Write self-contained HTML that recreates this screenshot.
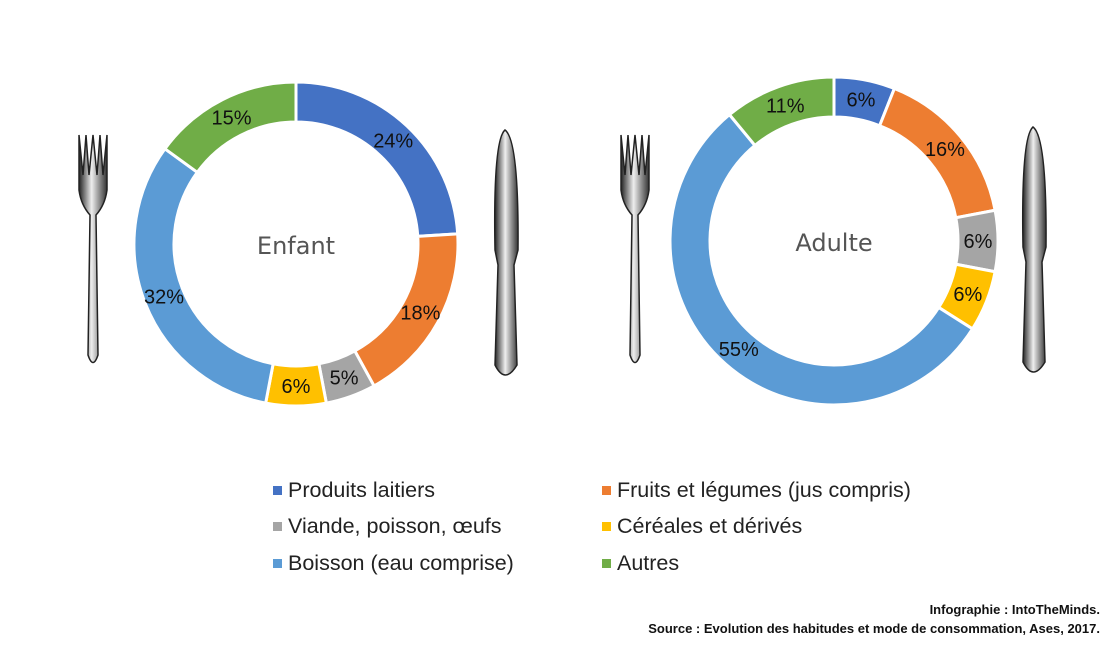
<!DOCTYPE html>
<html><head><meta charset="utf-8"><style>
body{margin:0;background:#fff;width:1119px;height:646px;overflow:hidden;font-family:"Liberation Sans",Arial,sans-serif}
.lg{position:absolute;font-size:21.5px;color:#222}
.lg i{position:absolute;left:-15px;top:8px;width:9px;height:9px}
.src{position:absolute;right:19px;font-size:13px;font-weight:bold;color:#111}
</style></head><body>
<svg id="s" width="1119" height="646" style="position:absolute;left:0;top:0">
<defs>
<linearGradient id="m" x1="0" x2="1"><stop offset="0" stop-color="#222"/><stop offset=".45" stop-color="#eee"/><stop offset="1" stop-color="#333"/></linearGradient>
</defs>
<g id="c"></g>
</svg>
<div class="lg" style="left:288px;top:478px"><i style="background:#4472C4"></i>Produits laitiers</div>
<div class="lg" style="left:617px;top:478px"><i style="background:#ED7D31"></i>Fruits et légumes (jus compris)</div>
<div class="lg" style="left:288px;top:514px"><i style="background:#A5A5A5"></i>Viande, poisson, œufs</div>
<div class="lg" style="left:617px;top:514px"><i style="background:#FFC000"></i>Céréales et dérivés</div>
<div class="lg" style="left:288px;top:551px"><i style="background:#5B9BD5"></i>Boisson (eau comprise)</div>
<div class="lg" style="left:617px;top:551px"><i style="background:#70AD47"></i>Autres</div>
<div class="src" style="top:602px">Infographie : IntoTheMinds.</div>
<div class="src" style="top:621px">Source : Evolution des habitudes et mode de consommation, Ases, 2017.</div>
<script>
var g=document.getElementById('c'),h='';
var cols=['#4472C4','#ED7D31','#A5A5A5','#FFC000','#5B9BD5','#70AD47'];
function P(cx,cy,r,a){a=a*Math.PI/180;return [cx+r*Math.sin(a),cy-r*Math.cos(a)];}
function donut(cx,cy,R,r,vals,title){
 var a=0;
 vals.forEach(function(v,i){
  var a1=a,a2=a+v*3.6,lg=(a2-a1)>180?1:0;
  var p1=P(cx,cy,R,a1),p2=P(cx,cy,R,a2),p3=P(cx,cy,r,a2),p4=P(cx,cy,r,a1);
  h+='<path d="M'+p1+' A'+R+','+R+' 0 '+lg+' 1 '+p2+' L'+p3+' A'+r+','+r+' 0 '+lg+' 0 '+p4+'Z" fill="'+cols[i]+'" stroke="#fff" stroke-width="3"/>';
  var m=P(cx,cy,(R+r)/2,(a1+a2)/2);
  h+='<text x="'+m[0]+'" y="'+(m[1]+7)+'" text-anchor="middle" font-size="20" fill="#111" font-family="Liberation Sans,Arial,sans-serif">'+v+'%</text>';
  a=a2;
 });
 h+='<text x="'+cx+'" y="'+(cy+10)+'" text-anchor="middle" font-size="24" fill="#555" font-family="DejaVu Sans,sans-serif">'+title+'</text>';
}
donut(296,244,162,122,[24,18,5,6,32,15],'Enfant');
donut(834,241,164,124,[6,16,6,6,55,11],'Adulte');
function fork(x,y){
 h+='<path d="M'+(x-14)+','+y+' L'+(x-14)+','+(y+55)+' Q'+(x-12)+','+(y+70)+' '+(x-3)+','+(y+80)+' L'+(x-5)+','+(y+220)+' Q'+x+','+(y+235)+' '+(x+5)+','+(y+220)+' L'+(x+3)+','+(y+80)+' Q'+(x+12)+','+(y+70)+' '+(x+14)+','+(y+55)+' L'+(x+14)+','+y+' L'+(x+10)+','+(y+40)+' L'+(x+7)+','+y+' L'+(x+4)+','+(y+40)+' L'+x+','+y+' L'+(x-4)+','+(y+40)+' L'+(x-7)+','+y+' L'+(x-10)+','+(y+40)+'Z" fill="url(#m)" stroke="#222" stroke-width="1.5"/>';
}
function knife(x,y){
 h+='<path d="M'+x+','+y+' Q'+(x+14)+','+(y+10)+' '+(x+13)+','+(y+120)+' L'+(x+9)+','+(y+135)+' L'+(x+12)+','+(y+235)+' Q'+x+','+(y+255)+' '+(x-10)+','+(y+235)+' L'+(x-7)+','+(y+135)+' L'+(x-10)+','+(y+120)+' Q'+(x-12)+','+(y+10)+' '+x+','+y+'Z" fill="url(#m)" stroke="#222" stroke-width="1.5"/>';
}
fork(93,135);knife(505,130);fork(635,135);knife(1033,127);
g.innerHTML=h;
</script>
</body></html>
